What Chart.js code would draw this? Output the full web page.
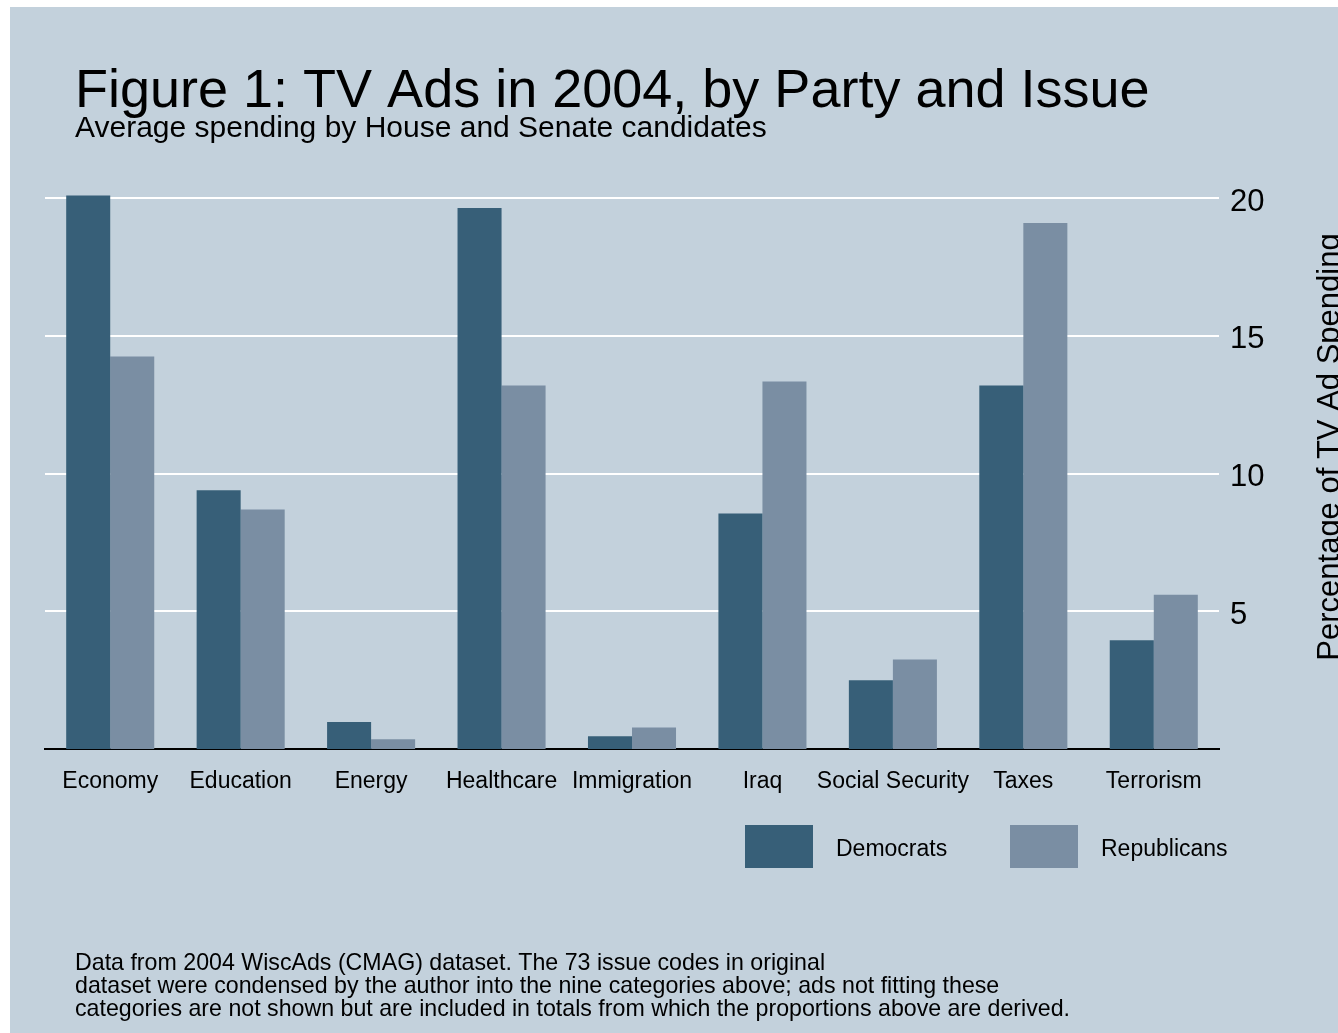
<!DOCTYPE html>
<html>
<head>
<meta charset="utf-8">
<title>TV Ads in 2004, by Party and Issue</title>
<script src="https://cdn.jsdelivr.net/npm/chart.js@4.4.1/dist/chart.umd.min.js"></script>
<style>
    html, body { margin: 0; padding: 0; background: #fff; }
    canvas { display: block; }
</style>
</head>
<body>
<canvas id="myChart" width="1338" height="1033"></canvas>
<script>
// Data (percent of TV ad spending);
const categories = ['Economy', 'Education', 'Energy', 'Healthcare', 'Immigration', 'Iraq', 'Social Security', 'Taxes', 'Terrorism'];
const democrats = [20.1, 9.4, 0.98, 19.65, 0.46, 8.55, 2.5, 13.2, 3.95];
const republicans = [14.25, 8.7, 0.35, 13.2, 0.78, 13.35, 3.25, 19.1, 5.6];
const yTicks = [5, 10, 15, 20];

const title = 'Figure 1: TV Ads in 2004, by Party and Issue';
const subtitle = 'Average spending by House and Senate candidates';
const yTitle = 'Percentage of TV Ad Spending';
const notes = [
    'Data from 2004 WiscAds (CMAG) dataset. The 73 issue codes in original',
    'dataset were condensed by the author into the nine categories above; ads not fitting these',
    'categories are not shown but are included in totals from which the proportions above are derived.'
];

const FONT = '"Liberation Sans", Arial, Helvetica, sans-serif';
const BG = '#C3D1DC';

// Background, titles, notes and legend;
const decor = {
    id: 'decor',
    beforeDraw(chart) {
        const ctx = chart.ctx;
        ctx.save();
        ctx.fillStyle = '#fff';
        ctx.fillRect(0, 0, chart.width, chart.height);
        ctx.fillStyle = BG;
        ctx.fillRect(10, 7, chart.width - 10, chart.height - 7);
        ctx.restore();
    },
    afterDraw(chart) {
        const ctx = chart.ctx;
        ctx.save();
        ctx.fillStyle = '#000';
        ctx.textAlign = 'left';
        ctx.textBaseline = 'alphabetic';

        ctx.font = '54px ' + FONT;
        ctx.fillText(title, 75, 107);
        ctx.font = '30px ' + FONT;
        ctx.fillText(subtitle, 75, 137);

        ctx.font = '23.2px ' + FONT;
        notes.forEach((line, i) => ctx.fillText(line, 75, 970 + i * 23));

        // legend
        const boxX = [745, 1010];
        chart.data.datasets.forEach((ds, i) => {
            ctx.fillStyle = ds.backgroundColor;
            ctx.fillRect(boxX[i], 825, 68, 43);
            ctx.fillStyle = '#000';
            ctx.textBaseline = 'middle';
            ctx.font = '23px ' + FONT;
            ctx.fillText(ds.label, boxX[i] + 91, 850);
        });

        // right axis title, reading upwards
        ctx.font = '31px ' + FONT;
        ctx.textAlign = 'center';
        ctx.textBaseline = 'alphabetic';
        ctx.translate(1339, 447);
        ctx.rotate(-Math.PI / 2);
        ctx.fillText(yTitle, 0, 0);
        ctx.restore();
    }
};

const ctx = document.getElementById('myChart').getContext('2d');
const myChart = new Chart(ctx, {
    type: 'bar',
    data: {
        labels: categories,
        datasets: [{
            label: 'Democrats',
            data: democrats,
            backgroundColor: '#375F78',
            borderWidth: 0,
            categoryPercentage: 0.675,
            barPercentage: 1.0
        }, {
            label: 'Republicans',
            data: republicans,
            backgroundColor: '#7A8EA3',
            borderWidth: 0,
            categoryPercentage: 0.675,
            barPercentage: 1.0
        }]
    },
    options: {
        responsive: false,
        animation: false,
        devicePixelRatio: 1,
        layout: {
            padding: { left: 45, right: 49, top: 190, bottom: 226 }
        },
        plugins: {
            legend: { display: false },
            tooltip: { enabled: false }
        },
        scales: {
            x: {
                grid: { display: false },
                border: { display: true, color: '#000', width: 2 },
                ticks: {
                    color: '#000',
                    font: { family: FONT, size: 23 },
                    padding: 11,
                    maxRotation: 0,
                    autoSkip: false
                },
                afterFit(scale) { scale.height = 58; }
            },
            y: {
                position: 'right',
                min: 0,
                max: 20.3,
                afterBuildTicks(scale) {
                    scale.ticks = yTicks.map(v => ({ value: v }));
                },
                grid: { color: '#fff', lineWidth: 2, drawTicks: false },
                border: { display: false },
                ticks: {
                    color: '#000',
                    font: { family: FONT, size: 31 },
                    padding: 11,
                    labelOffset: 4
                },
                afterFit(scale) { scale.width = 70; }
            }
        }
    },
    plugins: [decor]
});
</script>
</body>
</html>
